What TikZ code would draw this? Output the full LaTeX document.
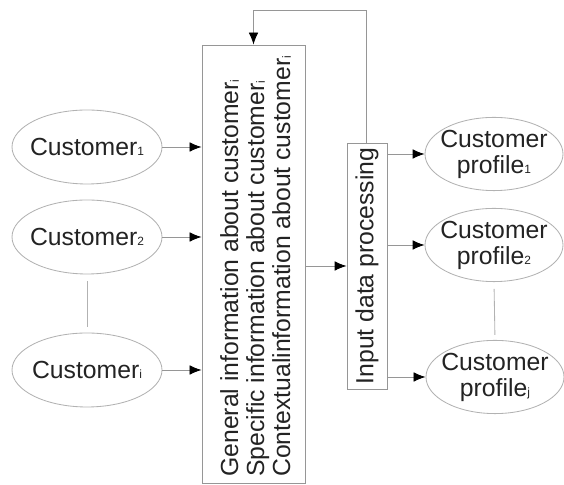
\documentclass[tikz,border=0pt]{standalone}
\usepackage{fontspec}
\setmainfont{Liberation Sans}
\usepackage{tikz}
\usetikzlibrary{shapes.geometric,arrows.meta}
\definecolor{linegray}{RGB}{150,150,150}
\definecolor{rimgray}{RGB}{178,178,178}
\definecolor{inkgray}{RGB}{35,35,35}
\newcommand{\smallidx}[1]{\raisebox{-0.5pt}{\fontsize{8.5}{8.5}\selectfont #1}}
\tikzstyle{client}=[
        draw=rimgray,
        ellipse,
        line width=0.6pt,
        minimum width=3.75cm,
        minimum height=1.85cm
]
\tikzstyle{profile}=[
        draw=rimgray,
        ellipse,
        line width=0.6pt,
        minimum width=3.45cm,
        minimum height=1.83cm
]
\tikzstyle{panel}=[
        draw=linegray,
        rectangle,
        inner sep=0pt,
        line width=0.6pt
]
\tikzstyle{link}=[
        draw=linegray,
        line width=0.6pt,
        -{Latex[black,length=0.3cm,width=0.24cm]}
]
\tikzstyle{dots}=[
        draw=rimgray,
        line width=0.6pt,
        shorten <=0.17cm,
        shorten >=0.13cm
]

\begin{document}
\begin{tikzpicture}[text=inkgray, font=\fontsize{17.6}{18.5}\selectfont]
                        \useasboundingbox (0,0) rectangle (14.1,12.125);

                        \node[client, label={center:Customer\smallidx{1}}] (cust1) at (2.175,8.45) {};
                        \node[client, label={center:Customer\smallidx{2}}] (cust2) at (2.175,6.2) {};
                        \node[client, label={center:Customer\smallidx{i}}] (custi) at (2.175,2.875) {};

                        \node[panel, minimum width=2.575cm, minimum height=10.95cm] (info) at (6.3375,5.525) {};
                        \node[rotate=90, anchor=north west, align=left, inner sep=0pt] (infotext) at (5.5,0.2)
                            {General information about customer\smallidx{i}\\
                             Specific information about customer\smallidx{i}\\
                             Contextualinformation about customer\smallidx{i}};

                        \node[panel, minimum width=1cm, minimum height=6.15cm] (proc) at (9.175,5.475)
                            {\rotatebox{90}{Input data processing}};

                        \node[profile, label={[align=center]center:Customer\\profile\smallidx{1}}] (prof1) at (12.35,8.275) {};
                        \node[profile, label={[align=center]center:Customer\\profile\smallidx{2}}] (prof2) at (12.35,6.0) {};
                        \node[profile, label={[align=center]center:Customer\\profile\smallidx{j}}] (profj) at (12.375,2.7) {};

                        \coordinate (loop) at (9.15,11.875);

                        \draw[dots] (cust2.south) -- (custi.north);
                        \draw[dots] (prof2.south) -- (profj.north);

                        \draw[link] (cust1.east) -- (cust1.east -| info.west);
                        \draw[link] (cust2.east) -- (cust2.east -| info.west);
                        \draw[link] (custi.east) -- (custi.east -| info.west);

                        \draw[link] (proc.west -| info.east) -- (proc.west);

                        \draw[link] (proc.east |- prof1) -- (prof1.west);
                        \draw[link] (proc.east |- prof2) -- (prof2.west);
                        \draw[link] (proc.east |- profj) -- (profj.west);

                        \draw[link] (proc.north -| loop) -- (loop) -| (info.north);
                    \end{tikzpicture}
\end{document}
